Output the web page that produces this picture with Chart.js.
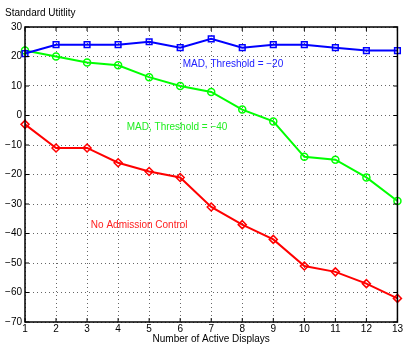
<!DOCTYPE html>
<html><head><meta charset="utf-8">
<script src="https://cdn.jsdelivr.net/npm/chart.js@4/dist/chart.umd.min.js"></script>
<style>html,body{margin:0;padding:0;background:#fff;}canvas{display:block;}</style>
</head><body>
<canvas id="c" width="404" height="345"></canvas>
<script>
const displays = [1,2,3,4,5,6,7,8,9,10,11,12,13];
const madThr20 = [21,24,24,24,25,23,26,23,24,24,23,22,22];
const madThr40 = [22,20,18,17,13,10,8,2,-2,-14,-15,-21,-29];
const noAdmission = [-3,-11,-11,-16,-19,-21,-31,-37,-42,-51,-53,-57,-62];
const yTicks = [30,20,10,0,-10,-20,-30,-40,-50,-60,-70];
const seriesLabels = ['MAD, Threshold = \u221220','MAD, Threshold = \u221240','No Admission Control'];
const labelAnchors = [[7.7,17.4],[5.9,-3.9],[4.68,-37.1]]; // data-space positions for in-plot labels
const FONT = '"Liberation Sans", Arial, sans-serif';

function pts(ys){ return displays.map((x,i)=>({x:x,y:ys[i]})); }

const frame = {
  id:'frame',
  afterDraw(chart){
    const {ctx, chartArea:a, scales} = chart;
    ctx.save();
    ctx.strokeStyle='#000'; ctx.lineWidth=1.5;
    ctx.strokeRect(a.left, a.top, a.right-a.left, a.bottom-a.top);
    ctx.lineWidth=1;
    displays.forEach(v=>{const x=scales.x.getPixelForValue(v);
      ctx.beginPath();ctx.moveTo(x,a.top);ctx.lineTo(x,a.top+4);ctx.stroke();
      ctx.beginPath();ctx.moveTo(x,a.bottom);ctx.lineTo(x,a.bottom-4);ctx.stroke();});
    yTicks.forEach(v=>{const y=scales.y.getPixelForValue(v);
      ctx.beginPath();ctx.moveTo(a.right,y);ctx.lineTo(a.right-4,y);ctx.stroke();
      ctx.beginPath();ctx.moveTo(a.left,y);ctx.lineTo(a.left+4,y);ctx.stroke();});
    ctx.font='10px '+FONT; ctx.textAlign='center'; ctx.textBaseline='middle';
    const cols=['#2020ff','#22ee22','#ff2020'];
    labelAnchors.forEach((p,i)=>{ctx.fillStyle=cols[i];
      ctx.fillText(seriesLabels[i], scales.x.getPixelForValue(p[0]), scales.y.getPixelForValue(p[1]));});
    ctx.fillStyle='#000'; ctx.textAlign='left';
    ctx.fillText('Standard Utitlity', 5, 13);
    ctx.restore();
  }
};

new Chart(document.getElementById('c'), {
  type:'line',
  data:{datasets:[
    {label:seriesLabels[0],data:pts(madThr20),borderColor:'#0000ff',backgroundColor:'rgba(0,0,0,0)',borderWidth:2,pointStyle:'rect',pointRadius:4,pointBorderWidth:1.5,tension:0},
    {label:seriesLabels[1],data:pts(madThr40),borderColor:'#00ff00',backgroundColor:'rgba(0,0,0,0)',borderWidth:2,pointStyle:'circle',pointRadius:3.5,pointBorderWidth:1.5,tension:0},
    {label:seriesLabels[2],data:pts(noAdmission),borderColor:'#ff0000',backgroundColor:'rgba(0,0,0,0)',borderWidth:2,pointStyle:'rectRot',pointRadius:4,pointBorderWidth:1.5,tension:0}
  ]},
  options:{
    responsive:false, animation:false, clip:false,
    layout:{padding:{top:27,right:6,left:0,bottom:0}},
    plugins:{legend:{display:false},tooltip:{enabled:false}},
    scales:{
      x:{type:'linear',min:1,max:13,
        ticks:{stepSize:1,font:{family:FONT,size:10},color:'#000',padding:1,maxRotation:0},
        grid:{color:'#666',lineWidth:1,drawTicks:false,tickLength:0},
        border:{display:false,dash:[1,3]},
        title:{display:true,text:'Number of Active Displays',font:{family:FONT,size:10},color:'#000',padding:{top:-1,bottom:0}},
        afterFit(s){s.height=23;}
      },
      y:{type:'linear',min:-70,max:30,
        ticks:{stepSize:10,font:{family:FONT,size:10},color:'#000',padding:3,
          callback:v=>String(v).replace('-','\u2212')},
        grid:{color:'#666',lineWidth:1,drawTicks:false},
        border:{display:false,dash:[1,3]},
        afterFit(s){s.width=25;}
      }
    }
  },
  plugins:[frame]
});
</script>
</body></html>
